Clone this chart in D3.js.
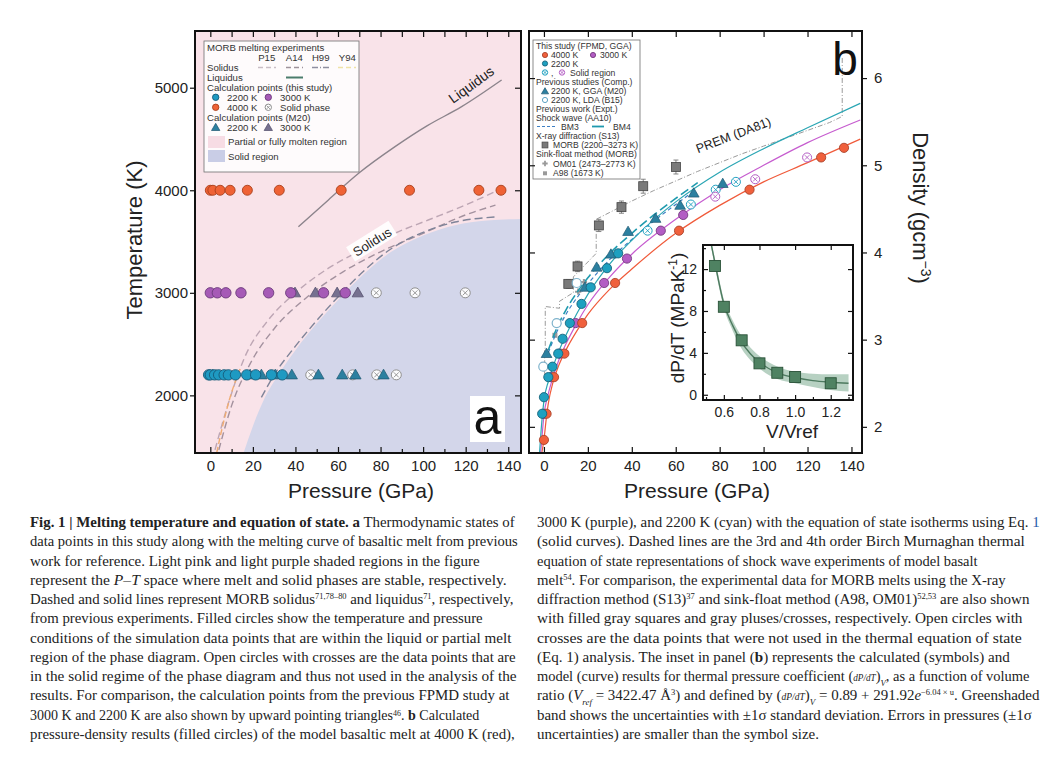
<!DOCTYPE html>
<html><head><meta charset="utf-8">
<script src="https://cdn.jsdelivr.net/npm/d3@7"></script>
<style>
html,body{margin:0;padding:0;background:#fff;}
svg{display:block;font-family:'Liberation Sans',Arial,Helvetica,sans-serif;}
.cap{font-family:'Liberation Serif','Times New Roman',serif;font-size:15px;fill:#222;white-space:pre;}
</style></head><body>
<svg id="fig" width="1060" height="781"></svg>
<script>
// ================= DATA =================
// ---- panel a : P-T diagram ----
const pressureTicks=[0,20,40,60,80,100,120,140];
const temperatureTicks=[2000,3000,4000,5000];
const p4000=[0,1.2,4.6,9.3,17.4,32.4,61.5,93.6,126.2,136.6];
const p3000=[0,3.3,7.3,14.4,27.4,37.8,53.2,63.4];
const p3000Solid=[78.0,96.2,119.8];
const p2200=[-0.8,0,2.0,3.9,6.5,8.5,11.8,17.1,21.3,28.7,33.8];
const p2200Solid=[47.2,66.9,78.2,87.4];
const pM20at2200=[1.2,18.7,24.0,30.5,38.3,50.8,62.0,68.2,81.4];
const pM20at3000=[39.8,49.4,59.6,69.3];
const solidusP15P=[2.2,8.5,16.3,27.3,39.8,55.5,71.1,86.8,102.4,118.1,133.8];
const solidusP15T=[1469,1924,2378,2736,2996,3240,3418,3581,3710,3840,3986];
const solidusA14P=[4,10,18.5,30,45,62,80,100,120,134];
const solidusA14T=[1469,1900,2300,2650,2950,3200,3400,3580,3760,3855];
const solidusH99P=[24,30,40,50,60,72,85,100,115,134];
const solidusH99T=[1980,2200,2480,2730,2960,3210,3430,3590,3690,3740];
const solidusY94P=[3,6,9,12,14.5];
const solidusY94T=[1440,1720,1960,2150,2280];
const liquidusP=[41.4,55.5,70,86.8,102,118.1,136.9];
const liquidusT=[3645,3906,4170,4425,4630,4815,5075];
const solidRegionP=[15.6,20,25,32,40,50,60,72,85,100,115,130,146];
const solidRegionT=[1438,1700,1950,2200,2440,2700,2930,3180,3400,3560,3660,3705,3720];

// ---- panel b : P-density ----
const densityTicks=[2,3,4,5,6];
const rho4000=[1.85,2.15,2.57,2.84,3.19,3.65,4.25,4.72,5.09,5.20];
const rho3000=[2.15,2.57,2.84,3.19,3.65,3.93,4.25,4.43];
const rho3000Solid=[4.64,4.84,5.09];
const rho2200=[2.15,2.34,2.57,2.69,2.84,3.01,3.19,3.41,3.60,3.82,3.99];
const rho2200Solid=[4.25,4.55,4.72,4.81];
const rhoM20at2200=[2.84,3.60,3.83,3.98,4.24,4.39,4.54,4.68,4.79];
const pB15=[-0.3,5.8,14.9];
const rhoB15=[2.69,3.19,3.65];
const pS13=[11.1,15.3,25.0,35.3,45.2,60.1];
const rhoS13=[3.64,3.84,4.31,4.52,4.76,4.98];
const errS13=[0.05,0.06,0.07,0.07,0.08,0.08];
const pOM01=[15.6,18.2];
const rhoOM01=[3.55,3.66];
const pA98=[5.0];
const rhoA98=[3.05];
const eos4000P=[-1,0,1,2,4,7,10,15,20,30,40,60,80,100,120,144];
const eos4000Rho=[1.70,1.85,2.08,2.27,2.50,2.72,2.88,3.10,3.29,3.58,3.81,4.22,4.54,4.81,5.03,5.30];
const eos3000P=[-1.5,-0.5,0,2,4,7,10,15,20,30,40,60,80,100,120,144];
const eos3000Rho=[1.70,2.00,2.13,2.38,2.56,2.78,2.95,3.19,3.40,3.72,3.98,4.38,4.72,5.00,5.26,5.52];
const eos2200P=[-2,-1,0,2,4,7,10,15,20,30,40,60,80,100,120,144];
const eos2200Rho=[1.70,2.05,2.30,2.52,2.68,2.88,3.05,3.30,3.52,3.87,4.14,4.58,4.92,5.19,5.43,5.71];
const bm3P=[2,5,10,15,20,30,40,50,60,69];
const bm3Rho=[2.85,3.04,3.29,3.48,3.64,3.92,4.15,4.36,4.55,4.72];
const bm4P=[2,5,10,15,20,30,40,50,60,70];
const bm4Rho=[2.88,3.08,3.34,3.54,3.71,3.99,4.22,4.43,4.62,4.80];
const premP=[0,0.34,0.34,0.6,0.6,7.1,7.1,13.4,13.4,23.8,23.8,30,40,50,60,70,80,90,100,110,120,130,135.8,135.8];
const premRho=[2.6,2.6,2.9,2.9,3.38,3.36,3.44,3.54,3.72,3.99,4.38,4.46,4.59,4.71,4.82,4.93,5.03,5.13,5.22,5.31,5.40,5.49,5.56,6.25];

// ---- inset : thermal pressure coefficient ----
const insetXTicks=[0.6,0.8,1.0,1.2];
const insetYTicks=[0,4,8,12];
const vRatio=[0.55,0.6,0.7,0.8,0.9,1.0,1.2];
const dPdT=[12.3,8.4,5.2,3.0,2.1,1.7,1.1];
const fitV=[0.53,0.55,0.6,0.65,0.7,0.75,0.8,0.9,1.0,1.1,1.2,1.3];
const fitY=[14.3,12.6,8.7,6.6,5.0,3.9,3.1,2.1,1.65,1.35,1.2,1.1];
const fitUpper=[14.6,13.0,9.1,7.1,5.6,4.5,3.7,2.7,2.2,2.0,1.95,1.95];
const fitLower=[14.0,12.2,8.3,6.1,4.4,3.3,2.5,1.5,1.1,0.75,0.45,0.3];

// ---- caption ----
const captionLeft=[
"<b>Fig. 1 | Melting temperature and equation of state.</b> <b>a</b> Thermodynamic states of",
"data points in this study along with the melting curve of basaltic melt from previous",
"work for reference. Light pink and light purple shaded regions in the figure",
"represent the <i>P–T</i> space where melt and solid phases are stable, respectively.",
"Dashed and solid lines represent MORB solidus<sup>71,78–80</sup> and liquidus<sup>71</sup>, respectively,",
"from previous experiments. Filled circles show the temperature and pressure",
"conditions of the simulation data points that are within the liquid or partial melt",
"region of the phase diagram. Open circles with crosses are the data points that are",
"in the solid regime of the phase diagram and thus not used in the analysis of the",
"results. For comparison, the calculation points from the previous FPMD study at",
"3000 K and 2200 K are also shown by upward pointing triangles<sup>46</sup>. <b>b</b> Calculated",
"pressure-density results (filled circles) of the model basaltic melt at 4000 K (red),"
];
const captionRight=[
"3000 K (purple), and 2200 K (cyan) with the equation of state isotherms using Eq. <c>1</c>",
"(solid curves). Dashed lines are the 3rd and 4th order Birch Murnaghan thermal",
"equation of state representations of shock wave experiments of model basalt",
"melt<sup>54</sup>. For comparison, the experimental data for MORB melts using the X-ray",
"diffraction method (S13)<sup>37</sup> and sink-float method (A98, OM01)<sup>52,53</sup> are also shown",
"with filled gray squares and gray pluses/crosses, respectively. Open circles with",
"crosses are the data points that were not used in the thermal equation of state",
"(Eq. 1) analysis. The inset in panel (<b>b</b>) represents the calculated (symbols) and",
"model (curve) results for thermal pressure coefficient (<s>dP/dT</s>)<sub>V</sub>, as a function of volume",
"ratio (<i>V</i><sub>ref</sub> = 3422.47 Å<sup>3</sup>) and defined by (<s>dP/dT</s>)<sub>V</sub> = 0.89 + 291.92<i>e</i><sup>−6.04 × u</sup>. Greenshaded",
"band shows the uncertainties with ±1σ standard deviation. Errors in pressures (±1σ",
"uncertainties) are smaller than the symbol size."
];

// ================= DRAWING =================
const svg=d3.select("#fig");
const defs=svg.append("defs");
const zip=(a,b)=>a.map((v,i)=>[v,b[i]]);
const plain=d=>String(d);

// colours
const C={orange:"#ef6235",orangeS:"#a8401c",purple:"#a65ab6",purpleS:"#6b3a7a",cyan:"#1e9ac2",cyanS:"#165a78",
  tri2200:"#2c80a0",tri2200S:"#1c5670",tri3000:"#767190",tri3000S:"#4f4a68",
  red:"#f0603c",redS:"#a9432a",mag:"#b35dc4",magS:"#74397e",teal:"#1ea0c0",tealS:"#17647c",
  lineRed:"#f05a3a",lineMag:"#c65ccf",lineTeal:"#2aa6b4"};

function crossCircle(g,x,y,r,stroke){
  g.append("circle").attr("cx",x).attr("cy",y).attr("r",r).attr("fill","#fff").attr("fill-opacity",0.9).attr("stroke",stroke).attr("stroke-width",1);
  const k=r*0.5;
  g.append("path").attr("d",`M${x-k},${y-k}L${x+k},${y+k}M${x-k},${y+k}L${x+k},${y-k}`).attr("stroke",stroke).attr("stroke-width",0.9);
}
function dot(g,x,y,r,fill,stroke){
  g.append("circle").attr("cx",x).attr("cy",y).attr("r",r).attr("fill",fill).attr("stroke",stroke).attr("stroke-width",0.9);
}
function tri(g,x,y,size,fill,stroke){
  g.append("path").attr("d",d3.symbol(d3.symbolTriangle,size)()).attr("transform",`translate(${x},${y+0.8})`).attr("fill",fill).attr("stroke",stroke).attr("stroke-width",0.7);
}
function styleAxis(g,fs){
  g.select(".domain").remove();
  g.selectAll(".tick line").attr("stroke","#111").attr("stroke-width",1.2);
  g.selectAll("text").attr("font-size",fs).attr("fill","#222").attr("font-family","'Liberation Sans',Arial,sans-serif");
}

// ---------- PANEL A ----------
const xA=d3.scaleLinear().domain([-7.2,146]).range([195,521]);
const yA=d3.scaleLinear().domain([1438,5553]).range([453,31]);
defs.append("clipPath").attr("id","clipA").append("rect").attr("x",195).attr("y",31).attr("width",326).attr("height",422);
const pa=svg.append("g").attr("clip-path","url(#clipA)");
pa.append("rect").attr("x",195).attr("y",31).attr("width",326).attr("height",422).attr("fill","#f9e3e9");
pa.append("path").datum(zip(solidRegionP,solidRegionT))
  .attr("d",d3.area().x(d=>xA(d[0])).y0(yA(1438)).y1(d=>yA(d[1])).curve(d3.curveMonotoneX))
  .attr("fill","#d3d6ea");
const lineA=d3.line().x(d=>xA(d[0])).y(d=>yA(d[1])).curve(d3.curveMonotoneX);
[[solidusP15P,solidusP15T,"#bda6b4","7,4"],[solidusA14P,solidusA14T,"#a3919e","7,4"],
 [solidusH99P,solidusH99T,"#7f8499","8,4"],[solidusY94P,solidusY94T,"#f0ac72","6,3"]].forEach(s=>{
  pa.append("path").datum(zip(s[0],s[1])).attr("d",lineA).attr("fill","none").attr("stroke",s[2]).attr("stroke-width",1.4).attr("stroke-dasharray",s[3]);
});
pa.append("path").datum(zip(liquidusP,liquidusT)).attr("d",lineA).attr("fill","none").attr("stroke","#8c848c").attr("stroke-width",1.4);
// labels
const solLab=pa.append("g").attr("transform",`translate(${xA(76)},${yA(3500)}) rotate(-32)`);
solLab.append("rect").attr("x",-25).attr("y",-9).attr("width",50).attr("height",17).attr("fill","#fff").attr("opacity",0.9);
solLab.append("text").attr("text-anchor","middle").attr("y",5).attr("font-size",13).attr("fill","#222").text("Solidus");
pa.append("text").attr("transform",`translate(${xA(124)},${yA(4990)}) rotate(-36)`).attr("text-anchor","middle").attr("font-size",14).attr("fill","#222").text("Liquidus");
// points
p3000Solid.forEach(p=>crossCircle(pa,xA(p),yA(3000),5,"#8f8f8f"));
p2200Solid.forEach(p=>crossCircle(pa,xA(p),yA(2200),5,"#8f8f8f"));
pM20at2200.forEach(p=>tri(pa,xA(p),yA(2200),55,C.tri2200,C.tri2200S));
pM20at3000.forEach(p=>tri(pa,xA(p),yA(3000),55,C.tri3000,C.tri3000S));
p4000.forEach(p=>dot(pa,xA(p),yA(4000),5,C.orange,C.orangeS));
p3000.forEach(p=>dot(pa,xA(p),yA(3000),5.2,C.purple,C.purpleS));
p2200.forEach(p=>dot(pa,xA(p),yA(2200),5.2,C.cyan,C.cyanS));
// legend a
const la=svg.append("g");
la.append("rect").attr("x",204).attr("y",41).attr("width",155).attr("height",131).attr("fill","#fff").attr("fill-opacity",0.85).attr("stroke","#6f6f6f").attr("stroke-width",0.8);
const lt=(g,x,y,t,anchor)=>g.append("text").attr("x",x).attr("y",y+3.5).attr("font-size",9.6).attr("fill","#333").attr("text-anchor",anchor||"start").text(t);
lt(la,207,47.5,"MORB melting experiments");
[["P15",266.7],["A14",294.3],["H99",320.7],["Y94",347.3]].forEach(d=>lt(la,d[1],57.5,d[0],"middle"));
lt(la,207,67.5,"Solidus");
[[258,276,"#c9bec5","5,3"],[286,303,"#9e939b","5,3"],[312,329,"#8f8fa0","6,2,1,2"],[338,356,"#efe2a6","5,3"]].forEach(d=>
  la.append("line").attr("x1",d[0]).attr("x2",d[1]).attr("y1",67.5).attr("y2",67.5).attr("stroke",d[2]).attr("stroke-width",1.6).attr("stroke-dasharray",d[3]));
lt(la,207,77.5,"Liquidus");
la.append("line").attr("x1",286).attr("x2",303).attr("y1",77.5).attr("y2",77.5).attr("stroke","#4b7c6c").attr("stroke-width",2);
lt(la,207,87.5,"Calculation points (this study)");
dot(la,215.7,97.3,3.2,C.cyan,C.cyanS); lt(la,227,97.3,"2200 K");
dot(la,268.3,97.3,3.2,C.purple,C.purpleS); lt(la,280,97.3,"3000 K");
dot(la,215.7,107.3,3.2,C.orange,C.orangeS); lt(la,227,107.3,"4000 K");
crossCircle(la,268.3,107.3,3.2,"#8f8f8f"); lt(la,280,107.3,"Solid phase");
lt(la,207,117.3,"Calculation points (M20)");
tri(la,215.7,127.3,30,C.tri2200,C.tri2200S); lt(la,227,127.3,"2200 K");
tri(la,268.3,127.3,30,C.tri3000,C.tri3000S); lt(la,280,127.3,"3000 K");
la.append("rect").attr("x",208).attr("y",136).attr("width",17).attr("height",12).attr("fill","#f7dce4");
lt(la,228,141.8,"Partial or fully molten region");
la.append("rect").attr("x",208).attr("y",150).attr("width",17).attr("height",12).attr("fill","#c9cde6");
lt(la,228,156,"Solid region");
// panel label a
svg.append("rect").attr("x",470).attr("y",396).attr("width",35).attr("height",46).attr("fill","#fff");
svg.append("text").attr("x",487.5).attr("y",434).attr("text-anchor","middle").attr("font-size",50).attr("fill","#111").text("a");
// axes a
const axAb=svg.append("g").attr("transform","translate(0,453)").call(d3.axisBottom(xA).tickValues(pressureTicks).tickFormat(plain).tickSize(-6).tickSizeOuter(0).tickPadding(7));
styleAxis(axAb,15);
const axAb2=svg.append("g").attr("transform","translate(0,453)").call(d3.axisBottom(xA).tickValues(d3.range(10,141,20)).tickSize(-4).tickFormat(""));
styleAxis(axAb2,15);
const axAt=svg.append("g").attr("transform","translate(0,31)").call(d3.axisTop(xA).tickValues(d3.range(0,141,10)).tickSize(-6).tickFormat(""));
styleAxis(axAt,15);
const axAl=svg.append("g").attr("transform","translate(195,0)").call(d3.axisLeft(yA).tickValues(temperatureTicks).tickFormat(plain).tickSize(5).tickPadding(2));
styleAxis(axAl,15);
const axAr=svg.append("g").attr("transform","translate(521,0)").call(d3.axisRight(yA).tickValues(temperatureTicks).tickSize(-6).tickFormat(""));
styleAxis(axAr,15);
svg.append("rect").attr("x",195).attr("y",31).attr("width",326).attr("height",422).attr("fill","none").attr("stroke","#111").attr("stroke-width",2);
svg.append("text").attr("transform","translate(142,240) rotate(-90)").attr("text-anchor","middle").attr("font-size",22).attr("fill","#222").text("Temperature (K)");
svg.append("text").attr("x",361).attr("y",498).attr("text-anchor","middle").attr("font-size",21).attr("fill","#222").text("Pressure (GPa)");

// ---------- PANEL B ----------
const xB=d3.scaleLinear().domain([-6.8,144.8]).range([529,862]);
const yB=d3.scaleLinear().domain([1.70,6.54]).range([453,31]);
defs.append("clipPath").attr("id","clipB").append("rect").attr("x",529).attr("y",31).attr("width",333).attr("height",422);
const pb=svg.append("g").attr("clip-path","url(#clipB)");
const lineB=d3.line().x(d=>xB(d[0])).y(d=>yB(d[1]));
pb.append("path").datum(zip(premP,premRho)).attr("d",lineB).attr("fill","none").attr("stroke","#9a9a9a").attr("stroke-width",1).attr("stroke-dasharray","5,2,1,2");
pb.append("text").attr("transform",`translate(${xB(87)},${yB(5.30)}) rotate(-21)`).attr("text-anchor","middle").attr("font-size",12.5).attr("fill","#222").text("PREM (DA81)");
// S13 squares with error bars
pS13.forEach((p,i)=>{
  pb.append("line").attr("x1",xB(p)).attr("x2",xB(p)).attr("y1",yB(rhoS13[i]-errS13[i])).attr("y2",yB(rhoS13[i]+errS13[i])).attr("stroke","#777").attr("stroke-width",0.9);
  [rhoS13[i]-errS13[i],rhoS13[i]+errS13[i]].forEach(v=>pb.append("line").attr("x1",xB(p)-2.5).attr("x2",xB(p)+2.5).attr("y1",yB(v)).attr("y2",yB(v)).attr("stroke","#777").attr("stroke-width",0.9));
  pb.append("rect").attr("x",xB(p)-4.5).attr("y",yB(rhoS13[i])-4.5).attr("width",9).attr("height",9).attr("fill","#7a7a7a").attr("stroke","#444").attr("stroke-width",0.8);
});
pOM01.forEach((p,i)=>pb.append("path").attr("d",d3.symbol(d3.symbolCross,22)()).attr("transform",`translate(${xB(p)},${yB(rhoOM01[i])})`).attr("fill","#9a9a9a"));
pA98.forEach((p,i)=>pb.append("rect").attr("x",xB(p)-2.5).attr("y",yB(rhoA98[i])-2.5).attr("width",5).attr("height",5).attr("fill","#9a9a9a"));
// shock wave
pb.append("path").datum(zip(bm3P,bm3Rho)).attr("d",lineB.curve(d3.curveMonotoneX)).attr("fill","none").attr("stroke","#3d7fc4").attr("stroke-width",1.2).attr("stroke-dasharray","4,3");
pb.append("path").datum(zip(bm4P,bm4Rho)).attr("d",lineB.curve(d3.curveMonotoneX)).attr("fill","none").attr("stroke","#1f9aae").attr("stroke-width",1.6).attr("stroke-dasharray","9,4");
// EOS isotherms
const eosLine=d3.line().x(d=>xB(d[0])).y(d=>yB(d[1])).curve(d3.curveMonotoneX);
[[eos4000P,eos4000Rho,C.lineRed],[eos3000P,eos3000Rho,C.lineMag],[eos2200P,eos2200Rho,C.lineTeal]].forEach(s=>
  pb.append("path").datum(zip(s[0],s[1])).attr("d",eosLine).attr("fill","none").attr("stroke",s[2]).attr("stroke-width",1.2));
// points
p2200Solid.forEach((p,i)=>crossCircle(pb,xB(p),yB(rho2200Solid[i]),4.5,C.teal));
p3000Solid.forEach((p,i)=>crossCircle(pb,xB(p),yB(rho3000Solid[i]),4.5,C.mag));
pB15.forEach((p,i)=>pb.append("circle").attr("cx",xB(p)).attr("cy",yB(rhoB15[i])).attr("r",4.5).attr("fill","#fff").attr("stroke","#7fb3cc").attr("stroke-width",1.2));
pM20at2200.forEach((p,i)=>tri(pb,xB(p),yB(rhoM20at2200[i]),50,C.tri2200,C.tri2200S));
p3000.forEach((p,i)=>dot(pb,xB(p),yB(rho3000[i]),4.6,C.mag,C.magS));
p4000.forEach((p,i)=>dot(pb,xB(p),yB(rho4000[i]),4.6,C.red,C.redS));
p2200.forEach((p,i)=>dot(pb,xB(p),yB(rho2200[i]),4.6,C.teal,C.tealS));
// legend b
const lb=svg.append("g");
lb.append("rect").attr("x",533).attr("y",40).attr("width",107).attr("height",139).attr("fill","#fff").attr("stroke","#6f6f6f").attr("stroke-width",0.8);
const lbt=(x,y,t)=>lb.append("text").attr("x",x).attr("y",y+3).attr("font-size",8.6).attr("fill","#333").text(t);
lbt(536,46,"This study (FPMD, GGA)");
dot(lb,545,55,2.6,C.red,C.redS); lbt(551,55,"4000 K");
dot(lb,593,55,2.6,C.mag,C.magS); lbt(600,55,"3000 K");
dot(lb,545,63.5,2.6,C.teal,C.tealS); lbt(551,63.5,"2200 K");
crossCircle(lb,545,72.5,2.7,C.teal); lbt(551,72.5,",");
crossCircle(lb,562,72.5,2.7,C.mag); lbt(570,72.5,"Solid region");
lbt(536,81.7,"Previous studies (Comp.)");
tri(lb,545,91,22,C.tri2200,C.tri2200S); lbt(551,91,"2200 K, GGA (M20)");
lb.append("circle").attr("cx",545).attr("cy",100).attr("r",2.6).attr("fill","#fff").attr("stroke","#5fa3c4").attr("stroke-width",1); lbt(551,100,"2200 K, LDA (B15)");
lbt(536,109,"Previous work (Expt.)");
lbt(536,117.5,"Shock wave (AA10)");
lb.append("line").attr("x1",537).attr("x2",556).attr("y1",126.5).attr("y2",126.5).attr("stroke","#3d7fc4").attr("stroke-width",1.1).attr("stroke-dasharray","3,2");
lbt(561,126.5,"BM3");
lb.append("line").attr("x1",592).attr("x2",604).attr("y1",126.5).attr("y2",126.5).attr("stroke","#1f9aae").attr("stroke-width",1.8);
lbt(613,126.5,"BM4");
lbt(536,136,"X-ray diffraction (S13)");
lb.append("rect").attr("x",542).attr("y",142).attr("width",6).attr("height",6).attr("fill","#7a7a7a").attr("stroke","#444").attr("stroke-width",0.6);
lbt(553,145,"MORB (2200–3273 K)");
lbt(536,154,"Sink-float method (MORB)");
lb.append("path").attr("d",d3.symbol(d3.symbolCross,16)()).attr("transform","translate(545,163.5)").attr("fill","#9a9a9a");
lbt(553,163.5,"OM01 (2473–2773 K)");
lb.append("rect").attr("x",543).attr("y",171.3).attr("width",4).attr("height",4).attr("fill","#9a9a9a");
lbt(553,173.3,"A98 (1673 K)");
// label b
svg.append("text").attr("x",845).attr("y",75).attr("text-anchor","middle").attr("font-size",46).attr("fill","#111").text("b");
// axes b
const axBb=svg.append("g").attr("transform","translate(0,453)").call(d3.axisBottom(xB).tickValues(pressureTicks).tickFormat(plain).tickSize(-6).tickSizeOuter(0).tickPadding(7));
styleAxis(axBb,15);
const axBt=svg.append("g").attr("transform","translate(0,31)").call(d3.axisTop(xB).tickValues(pressureTicks).tickSize(-6).tickFormat(""));
styleAxis(axBt,15);
const axBl=svg.append("g").attr("transform","translate(529,0)").call(d3.axisLeft(yB).tickValues(densityTicks).tickSize(-6).tickFormat(""));
styleAxis(axBl,15);
const axBr=svg.append("g").attr("transform","translate(862,0)").call(d3.axisRight(yB).tickValues(densityTicks).tickFormat(plain).tickSize(5).tickPadding(7));
styleAxis(axBr,15);
svg.append("rect").attr("x",529).attr("y",31).attr("width",333).attr("height",422).attr("fill","none").attr("stroke","#111").attr("stroke-width",2);
svg.append("text").attr("x",697).attr("y",498).attr("text-anchor","middle").attr("font-size",21).attr("fill","#222").text("Pressure (GPa)");
const dl=svg.append("text").attr("transform","translate(913,208) rotate(90)").attr("text-anchor","middle").attr("font-size",22).attr("fill","#222").style("white-space","pre");
dl.append("tspan").text("Density (gcm");
dl.append("tspan").attr("font-size",14).attr("baseline-shift","super").text("−3");
dl.append("tspan").text(")");

// ---------- INSET ----------
const xI=d3.scaleLinear().domain([0.483,1.325]).range([703,853]);
const yI=d3.scaleLinear().domain([-0.5,14.3]).range([400,245]);
svg.append("rect").attr("x",703).attr("y",245).attr("width",150).attr("height",155).attr("fill","#fff");
defs.append("clipPath").attr("id","clipI").append("rect").attr("x",703).attr("y",245).attr("width",150).attr("height",155);
const pi=svg.append("g").attr("clip-path","url(#clipI)");
const fitPts=fitV.map((v,i)=>({v,y:fitY[i],lo:fitLower[i],hi:fitUpper[i]}));
pi.append("path").datum(fitPts).attr("d",d3.area().x(d=>xI(d.v)).y0(d=>yI(d.lo)).y1(d=>yI(d.hi)).curve(d3.curveMonotoneX)).attr("fill","#9fc2ad").attr("opacity",0.75);
pi.append("path").datum(fitPts).attr("d",d3.line().x(d=>xI(d.v)).y(d=>yI(d.y)).curve(d3.curveMonotoneX)).attr("fill","none").attr("stroke","#4d7a5f").attr("stroke-width",1.4);
vRatio.forEach((v,i)=>pi.append("rect").attr("x",xI(v)-5.5).attr("y",yI(dPdT[i])-5.5).attr("width",11).attr("height",11).attr("fill","#4f8262").attr("stroke","#2a5238").attr("stroke-width",0.9));
const axIb=svg.append("g").attr("transform","translate(0,400)").call(d3.axisBottom(xI).tickValues(insetXTicks).tickSize(-5).tickSizeOuter(0).tickPadding(7).tickFormat(d3.format(".1f")));
styleAxis(axIb,14);
const axIb2=svg.append("g").attr("transform","translate(0,400)").call(d3.axisBottom(xI).tickValues([0.5,0.7,0.9,1.1,1.3]).tickSize(-3).tickFormat(""));
styleAxis(axIb2,14);
const axIt=svg.append("g").attr("transform","translate(0,245)").call(d3.axisTop(xI).tickValues(insetXTicks).tickSize(-5).tickFormat(""));
styleAxis(axIt,14);
const axIl=svg.append("g").attr("transform","translate(703,0)").call(d3.axisLeft(yI).tickValues(insetYTicks).tickFormat(plain).tickSize(-5).tickPadding(6));
styleAxis(axIl,14);
const axIl2=svg.append("g").attr("transform","translate(703,0)").call(d3.axisLeft(yI).tickValues([2,6,10,14]).tickSize(-3).tickFormat(""));
styleAxis(axIl2,14);
const axIr=svg.append("g").attr("transform","translate(853,0)").call(d3.axisRight(yI).tickValues(insetYTicks).tickSize(-5).tickFormat(""));
styleAxis(axIr,14);
svg.append("rect").attr("x",703).attr("y",245).attr("width",150).attr("height",155).attr("fill","none").attr("stroke","#111").attr("stroke-width",2);
const il=svg.append("text").attr("transform","translate(684,318) rotate(-90)").attr("text-anchor","middle").attr("font-size",19).attr("fill","#222").style("white-space","pre");
il.append("tspan").text("dP/dT (MPaK");
il.append("tspan").attr("font-size",12).attr("baseline-shift","super").text("-1");
il.append("tspan").text(")");
svg.append("text").attr("x",792).attr("y",438).attr("text-anchor","middle").attr("font-size",19).attr("fill","#222").text("V/Vref");

// ---------- CAPTION ----------
function rich(t,str){
  const re=/<(b|i|sup|sub|c|s)>(.*?)<\/\1>/g; let last=0,m;
  while((m=re.exec(str))){
    if(m.index>last) t.append("tspan").text(str.slice(last,m.index));
    const ts=t.append("tspan").text(m[2]);
    if(m[1]==="b") ts.attr("font-weight","bold");
    if(m[1]==="i") ts.attr("font-style","italic");
    if(m[1]==="sup") ts.attr("font-size",8.5).attr("baseline-shift","super");
    if(m[1]==="sub") ts.attr("font-size",9).attr("baseline-shift","sub").attr("font-style","italic");
    if(m[1]==="c") ts.attr("fill","#2a5aa8");
    if(m[1]==="s") ts.attr("font-size",9.5).attr("font-style","italic");
    last=re.lastIndex;
  }
  if(last<str.length) t.append("tspan").text(str.slice(last));
}
function column(lines,x0,ends){
  const ks=[];
  const items=lines.map((s,i)=>{
    const t=svg.append("text").attr("class","cap");
    rich(t,s);
    const w=t.node().getComputedTextLength();
    const k=ends[i]?(ends[i]-x0)/w:null;
    if(k) ks.push(k);
    return {t,k,i};
  });
  const avg=d3.mean(ks);
  items.forEach(o=>o.t.attr("transform",`translate(${x0},${527+o.i*19.27}) scale(${o.k||avg},1)`));
}
column(captionLeft,30,[515,518,480,507,514,483,512,516,517,510,480,515]);
column(captionRight,537,[1040,1025,978,1006,1030,1023,1022,1010,1030,1040,1032,0]);
</script></body></html>
